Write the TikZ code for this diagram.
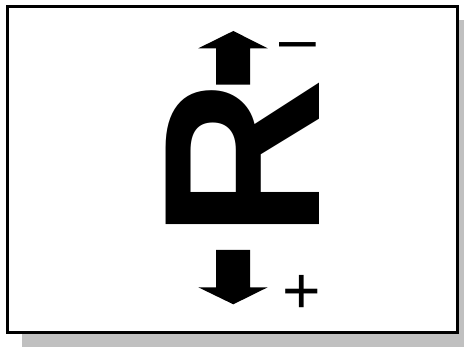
\documentclass[tikz,border=0pt]{standalone}
\usepackage{fontspec}
\setmainfont{Liberation Sans}
\usepackage{tikz}
\usetikzlibrary{positioning}
\definecolor{shadowgray}{RGB}{192,192,192}

\begin{document}
\begin{tikzpicture}[
  x=1pt,y=-1pt,
  frame/.style={draw=black,line width=3pt,fill=white},
  shade/.style={fill=shadowgray},
  bigletter/.style={font=\fontsize{223}{223}\selectfont\bfseries,inner sep=0pt,rotate=90,anchor=center},
  sign/.style={font=\fontsize{66}{66}\selectfont,inner sep=0pt,anchor=base west},
  blockarrow/.style={fill=black}
]
\useasboundingbox (0,0) rectangle (464,347);

% ---- panel with drop shadow
\fill[shade] (22,20) rectangle (464,347);
\path[frame] (7.5,6.5) rectangle (457.5,332.5);

% ---- rotated letter
\node[bigletter] (res) at (242.5,158.7) {R};

% ---- arrows
\fill[blockarrow] (233.3,31) -- (267.7,48.3) -- (250,48.3) -- (250,84.7)
  -- (216,84.7) -- (216,48.3) -- (198.3,48.3) -- cycle;
\fill[blockarrow] (233.3,304.3) -- (267.7,287.3) -- (250,287.3) -- (250,250)
  -- (216,250) -- (216,287.3) -- (198.3,287.3) -- cycle;

% ---- signs
\node[sign] (minus) at (279.3,62) {–};
\node[sign] (plus) at (282.3,313.3) {+};
\end{tikzpicture}
\end{document}
